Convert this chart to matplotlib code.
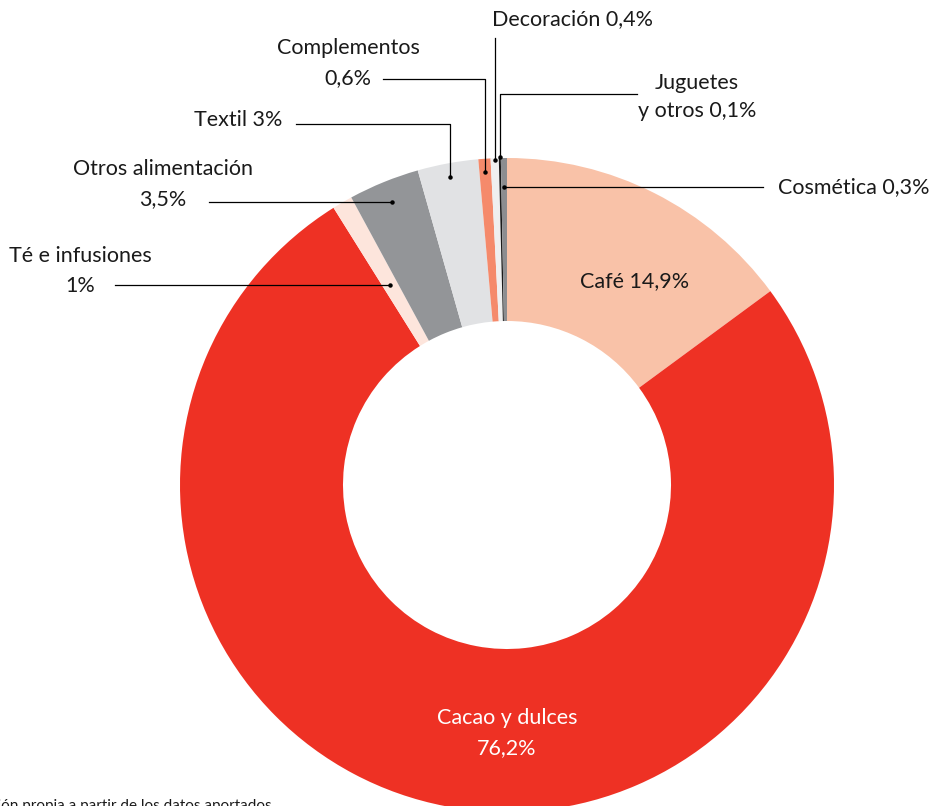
import numpy as np
import matplotlib.pyplot as plt

plt.rcParams['font.family'] = ['Lato', 'DejaVu Sans']

# datos (% sobre el total), en orden horario desde arriba
categorias = ['Café', 'Cacao y dulces', 'Té e infusiones', 'Otros alimentación',
              'Textil', 'Complementos', 'Decoración', 'Juguetes y otros', 'Cosmética']
valores = [14.9, 76.2, 1.0, 3.5, 3.0, 0.6, 0.4, 0.1, 0.3]
colores = ['#f9c2a8', '#ee3124', '#fde5dc', '#939598', '#e1e2e4',
           '#f58a6b', '#efefef', '#1a1a1a', '#8c8d90']

W, H = 935, 806
cx, cy = 507, H - 485
R, ancho = 327, 163

fig = plt.figure(figsize=(W / 100, H / 100), dpi=100)
ax = fig.add_axes([0, 0, 1, 1])
ax.pie(valores, colors=colores, startangle=90, counterclock=False,
       center=(cx, cy), radius=R, frame=True,
       wedgeprops=dict(width=ancho, linewidth=0))
ax.set_xlim(0, W)
ax.set_ylim(0, H)
ax.axis('off')


def py(y):
    # coordenada vertical en píxeles desde arriba
    return H - y


# ángulo medio de cada porción (grados, horario desde arriba)
acum = np.cumsum([0] + valores[:-1])
medio = (acum + np.array(valores) / 2) / 100 * 360


def punto(i, r):
    a = np.radians(medio[i])
    return cx + r * np.sin(a), cy + r * np.cos(a)


fs = 15.5
txt = dict(fontsize=fs, color='#1a1a1a', ha='center', va='center')
linea = dict(color='black', lw=0.9)

# etiquetas interiores
ax.text(635, py(281), 'Café 14,9%', **txt)
ax.text(507, py(718), 'Cacao y dulces', fontsize=fs, color='white', ha='center', va='center')
ax.text(507, py(748), '76,2%', fontsize=fs, color='white', ha='center', va='center')

# etiquetas exteriores: (índice, radio del punto, líneas de texto, codo y, extremo x)
exteriores = [
    (2, 232, [('Té e infusiones', 80, 256), ('1%', 80, 286)], None, 115),
    (3, 305, [('Otros alimentación', 163, 169), ('3,5%', 163, 199)], None, 209),
    (4, 313, [('Textil 3%', 238, 120)], 124, 296),
    (5, 314, [('Complementos', 348, 48), ('0,6%', 348, 78)], 79, 383),
    (6, 325, [('Decoración 0,4%', 572, 19)], 38, None),
    (7, 328, [('Juguetes', 697, 83), ('y otros 0,1%', 697, 111)], 94, 637),
    (8, 298, [('Cosmética 0,3%', 854, 187)], None, 763),
]

for i, r, textos, codo, xfin in exteriores:
    x0, y0 = punto(i, r)
    xs, ys = [x0], [y0]
    if codo is not None:
        xs.append(x0)
        ys.append(py(codo))
    if xfin is not None:
        xs.append(xfin)
        ys.append(ys[-1])
    ax.plot(xs, ys, **linea)
    ax.plot([x0], [y0], 'o', color='black', ms=2.2)
    for t, tx, ty in textos:
        ax.text(tx, py(ty), t, **txt)

fig.text(272 / W, 1 - 799 / H, 'Fuente: Elaboración propia a partir de los datos aportados',
         fontsize=11, color='#1a1a1a', ha='right', va='top')

fig.savefig('out.png', dpi=100)
